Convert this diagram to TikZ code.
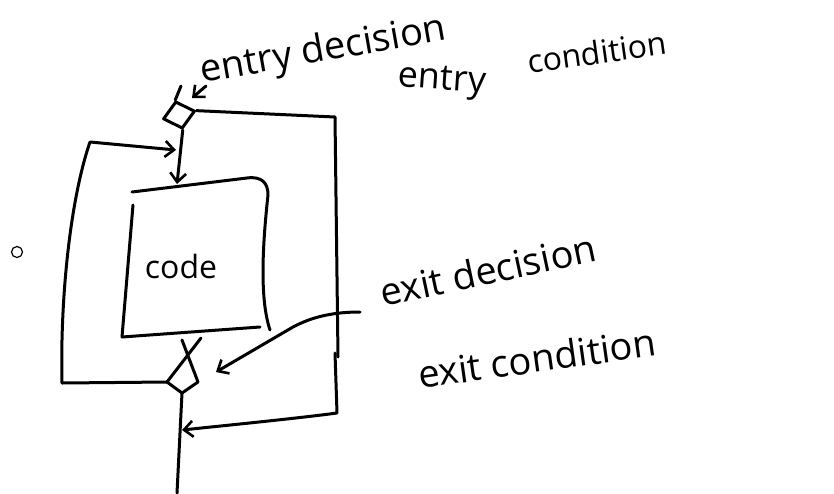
\documentclass[tikz,border=0pt]{standalone}
\usepackage{fontspec}
\setmainfont{Open Sans}
\usetikzlibrary{arrows.meta,shapes.geometric}
\begin{document}
\begin{tikzpicture}[x=1pt,y=-1pt,
  pen/.style={line width=3pt,line cap=round,line join=round},
  barb/.style={-{Straight Barb[length=9pt,width=16pt,line width=2.6pt]}},
  hand/.style={inner sep=0pt,font=\fontsize{#1}{#1}\selectfont},
  hand/.default=32]
\useasboundingbox (0,0) rectangle (834,493);

% entry decision diamond
\node[pen,draw,diamond,rotate=14,minimum width=33pt,minimum height=28pt,inner sep=0pt] (entry) at (179,115) {};
\coordinate (intop) at (181,86);
\draw[pen] (intop) -- (entry.north);

% code block
\coordinate (ctl) at (132,192);
\coordinate (cbl) at (122,337);
\coordinate (cbr) at (260,327);
\node[hand=32] (code) at (181,266) {code};
\draw[pen] (ctl) -- (247,178) .. controls (262,176) and (268,183) .. (268,195)
  .. controls (262,250) and (260,300) .. (270,330);
\draw[pen] (133,205) -- (cbl) -- (cbr);
\coordinate (ctop) at (177,184);
\draw[pen,barb] (entry.south) -- (ctop);

% exit decision (crossed diamond)
\coordinate (exitd) at (183,375);
\coordinate (exl) at (167,382);
\coordinate (exb) at (182,393);
\draw[pen] (182,340) -- (198,382) -- (exb) -- (exl) -- (201,338);

% loop back to the top
\coordinate (ljoin) at (176,150);
\draw[pen,barb] (exl) -- (62,383) .. controls (60,300) and (70,200) .. (90,142)
  -- (ljoin);

% bypass on the right
\coordinate (rjoin) at (182,430);
\draw[pen] (entry.east) -- (335,117) -- (338,357);
\draw[pen,barb] (335,353) -- (337,413) .. controls (300,418) and (230,425) .. (rjoin);

% main line out
\coordinate (out) at (177,493);
\draw[pen] (exb) -- (out);

% labels
\node[hand=38,rotate=10,anchor=south west] (entrylbl) at (204,92) {entry decision};
\draw[pen,barb] ([shift={(2,-6)}]entrylbl.south west) -- ([shift={(-12,6)}]entrylbl.south west);
\node[hand=36,rotate=-4] (entry2) at (442,82) {entry};
\node[hand=32,rotate=8] (cond) at (597,52) {condition};

\node[hand=38,rotate=12] (exitlbl) at (488,270) {exit decision};
\coordinate (ptr) at (360,312);
\coordinate (ptrend) at (216,372);
\draw[pen,barb] (ptr) .. controls (330,312) and (310,318) .. (293,327) -- (ptrend);
\node[hand=38,rotate=8] (exitcond) at (537,358) {exit condition};

% small circle
\node[draw,circle,line width=1.2pt,minimum size=11pt,inner sep=0pt] (dot) at (17,252) {};
\end{tikzpicture}
\end{document}
